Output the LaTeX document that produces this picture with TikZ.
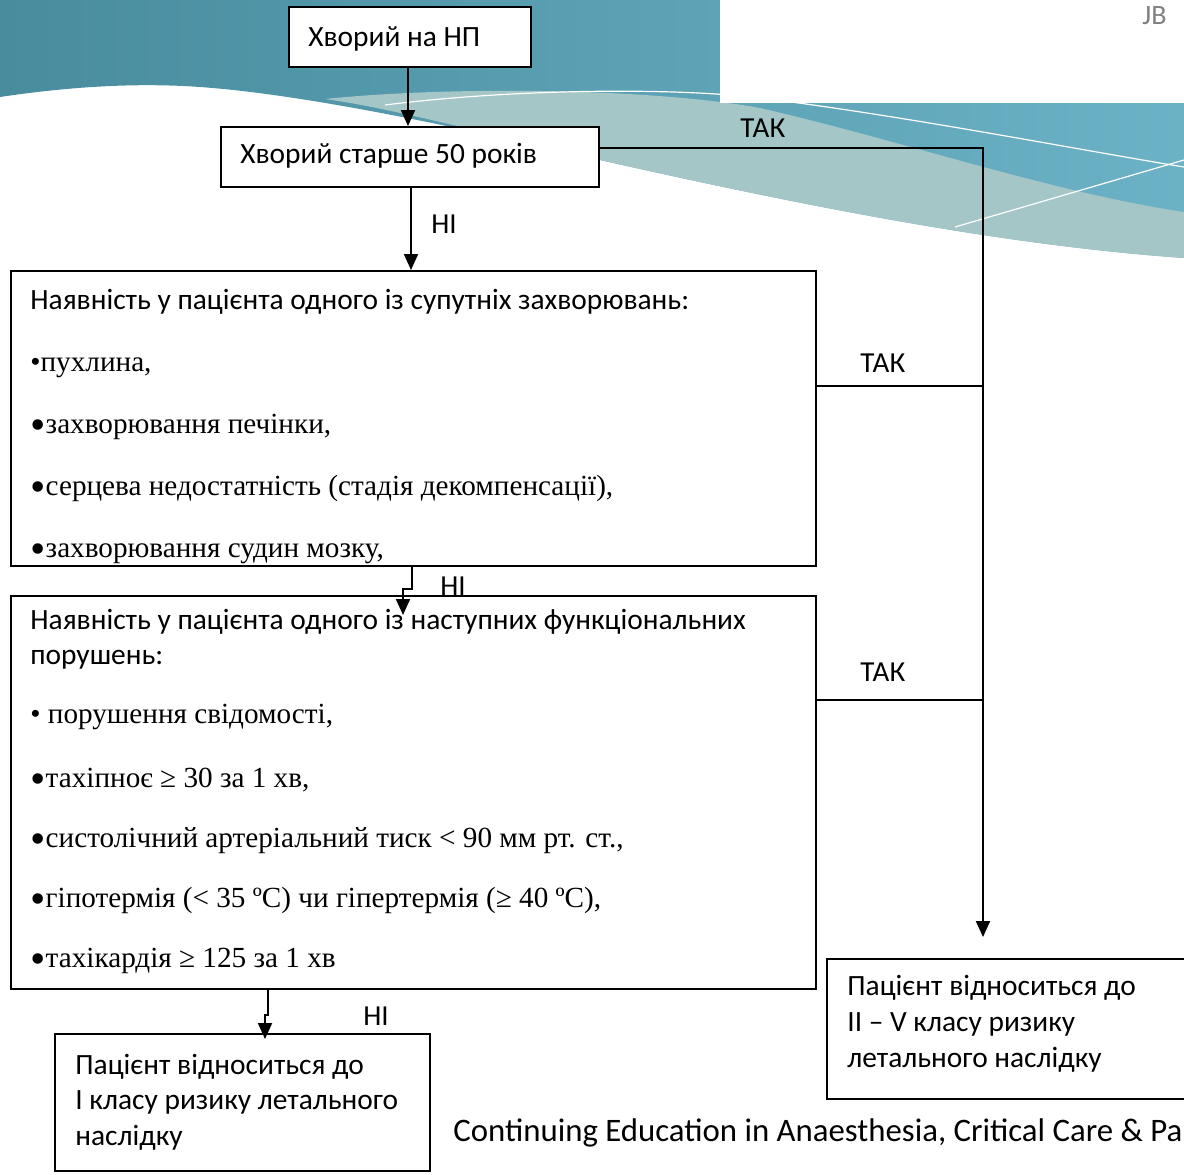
\documentclass[tikz,border=0pt]{standalone}
\usepackage{fontspec}
\usepackage{graphicx}
\setmainfont{Carlito}
\newfontfamily\itemfont{Liberation Serif}
\usepackage{tikz}
\usetikzlibrary{arrows.meta, positioning}
\definecolor{wavedark}{RGB}{72,140,158}
\definecolor{wavelight}{RGB}{108,178,198}
\definecolor{waveband}{RGB}{164,198,199}
\newcommand{\bigdot}{\raisebox{-3.1pt}{\scalebox{1.5}{•}}}

\begin{document}
\begin{tikzpicture}[x=0.5pt, y=-0.5pt,
  box/.style={draw, fill=white, line width=1pt, inner sep=0pt, anchor=north west},
  txt/.style={anchor=base west, inner sep=0pt, font=\fontsize{14.7}{17}\selectfont},
  itm/.style={anchor=base west, inner sep=0pt,
              font=\itemfont\fontsize{14.6}{16}\selectfont},
  tag/.style={anchor=base west, inner sep=0pt, font=\fontsize{14.5}{17}\selectfont},
  arrow/.style={-{Triangle[length=8pt, width=7pt]}, line width=1pt},
  link/.style={line width=1pt}
]
\useasboundingbox (0,0) rectangle (1184,1174);
\clip (0,0) rectangle (1184,1174);

% background wave
\shade[left color=wavedark, right color=wavelight]
  (0,0) -- (1184,0) -- (1184,258)
  .. controls (1000,245) and (800,205) .. (600,160)
  .. controls (450,125) and (300,94) .. (200,87)
  .. controls (130,82) and (60,88) .. (0,97) -- cycle;
\fill[waveband]
  (325,99) .. controls (450,86) and (650,88) .. (760,108)
  .. controls (900,140) and (1050,192) .. (1184,212) -- (1184,258)
  .. controls (1000,245) and (800,205) .. (600,160)
  .. controls (480,132) and (390,108) .. (325,99) -- cycle;
\draw[white, line width=0.6pt] (385,105) .. controls (520,88) and (680,88) .. (760,98)
  .. controls (900,115) and (1080,150) .. (1184,167);
\draw[white, line width=0.6pt] (955,227) -- (1184,160);
\fill[white] (720,0) rectangle (1184,103);
\node[anchor=base west, inner sep=0pt, text=gray, font=\fontsize{14}{16}\selectfont]
  (logo) at (1142,24) {JB};

% boxes
\node[box, minimum width=121pt, minimum height=30pt] (np) at (288,6) {};
\node[box, minimum width=189pt, minimum height=30pt] (age) at (220,126) {};
\node[box, minimum width=402.5pt, minimum height=147.5pt] (comorb) at (10,270) {};
\node[box, minimum width=402.5pt, minimum height=196.5pt] (func) at (10,595) {};
\node[box, minimum width=187.5pt, minimum height=68.5pt] (low) at (54,1033) {};
\node[box, minimum width=190pt, minimum height=70pt] (high) at (826,958) {};

\node[txt] (npt) at (308,46) {Хворий на НП};
\node[txt] (aget) at (240,163) {Хворий старше 50 років};

% comorbidity list
\node[txt] (c0) at (30,309) {Наявність у пацієнта одного із супутніх захворювань:};
\node[itm] (c1) at (30,371) {•пухлина,};
\node[itm] (c2) at (30,433) {\bigdot захворювання печінки,};
\node[itm] (c3) at (30,495) {\bigdot серцева недостатність (стадія декомпенсації),};
\node[itm] (c4) at (30,557) {\bigdot захворювання судин мозку,};

% functional list
\node[txt] (f0) at (30,629) {Наявність у пацієнта одного із наступних функціональних};
\node[txt] (f0b) at (30,664) {порушень:};
\node[itm] (f1) at (30,723) {• порушення свідомості,};
\node[itm] (f2) at (30,787) {\bigdot тахіпноє ≥ 30 за 1 хв,};
\node[itm] (f3) at (30,847) {\bigdot систолічний артеріальний тиск < 90 мм рт. ст.,};
\node[itm] (f4) at (30,907) {\bigdot гіпотермія (< 35 ºС) чи гіпертермія (≥ 40 ºС),};
\node[itm] (f5) at (30,967) {\bigdot тахікардія ≥ 125 за 1 хв};

% outcomes
\node[txt] (l1) at (75,1074) {Пацієнт відноситься до};
\node[txt] (l2) at (75,1109) {І класу ризику летального};
\node[txt] (l3) at (75,1145) {наслідку};
\node[txt] (h1) at (847,995) {Пацієнт відноситься до};
\node[txt] (h2) at (847,1031) {ІІ – V класу ризику};
\node[txt] (h3) at (847,1067) {летального наслідку};

\node[txt, font=\fontsize{16.4}{19}\selectfont] (foot) at (453,1141)
  {Continuing Education in Anaesthesia, Critical Care \& Pa};

% connectors
\coordinate (railtop) at (983,148);
\coordinate (railend) at (983,937);
\coordinate (j1) at (983,386);
\coordinate (j2) at (983,700);

\draw[arrow] (np.south -| 408,0) -- (age.north -| 408,0);
\draw[arrow] (age.east |- railtop) -- (railtop) -- (railend);
\draw[link] (comorb.east |- j1) -- (j1);
\draw[link] (func.east |- j2) -- (j2);
\draw[arrow] (age.south -| 411,0) -- (comorb.north -| 411,0);
\draw[arrow] (comorb.south -| 412,0) -- (412,589) -- (403,589) -- (403,615);
\draw[arrow] (func.south -| 268,0) -- (268,1015) -- (265,1015) -- (265,1039);

\node[tag] (yes1) at (740,137) {ТАК};
\node[tag] (no1) at (431,233) {НІ};
\node[tag] (yes2) at (860,372) {ТАК};
\node[tag] (no2) at (440,595) {НІ};
\node[tag] (yes3) at (860,681) {ТАК};
\node[tag] (no3) at (363,1025) {НІ};
\end{tikzpicture}
\end{document}
